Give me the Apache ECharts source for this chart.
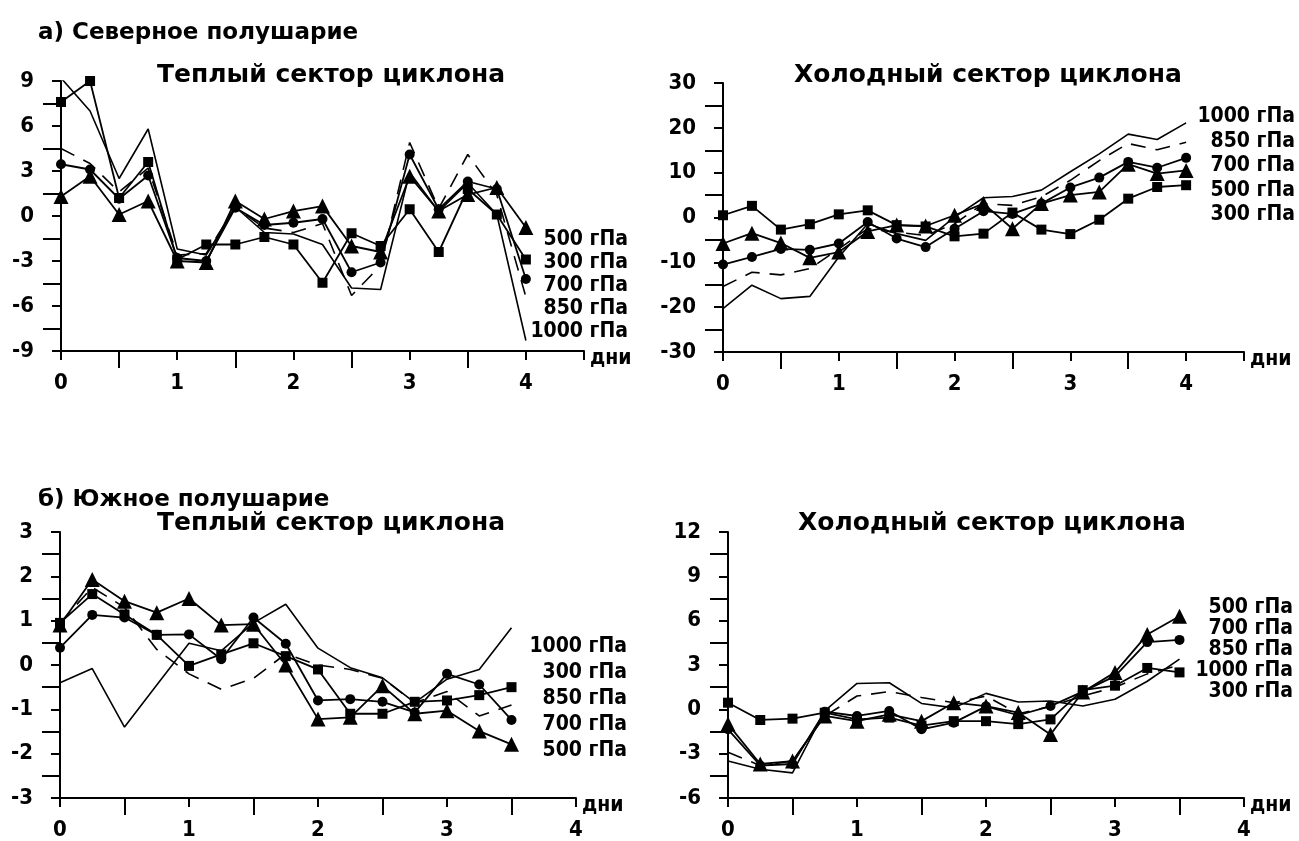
<!DOCTYPE html>
<html><head><meta charset="utf-8">
<script src="https://cdn.jsdelivr.net/npm/echarts@6/dist/echarts.min.js"></script>
<style>html,body{margin:0;padding:0;background:#fff}#c{width:1299px;height:841px}</style>
</head><body><div id="c"></div>
<script>
// ---------- DATA ----------
const daysN = [0,0.25,0.5,0.75,1,1.25,1.5,1.75,2,2.25,2.5,2.75,3,3.25,3.5,3.75,4];
const daysS = [0,0.25,0.5,0.75,1,1.25,1.5,1.75,2,2.25,2.5,2.75,3,3.25,3.5];

// a) Northern hemisphere, warm sector
const nWarm300  = [7.6, 9.0, 1.2, 3.6, -2.9, -1.9, -1.9, -1.4, -1.9, -4.45, -1.15, -2.0, 0.45, -2.4, 1.8, 0.1, -2.9];
const nWarm500  = [1.3, 2.65, 0.1, 1.0, -3.0, -3.1, 1.0, -0.2, 0.33, 0.66, -2.0, -2.4, 2.65, 0.33, 1.43, 1.9, -0.77];
const nWarm700  = [3.45, 3.1, 1.15, 2.7, -2.8, -3.0, 0.55, -0.6, -0.45, -0.2, -3.75, -3.1, 4.1, 0.45, 2.3, 1.8, -4.2];
const nWarm850  = [4.5, 3.5, 1.6, 3.2, -2.6, -2.5, 0.6, -0.8, -1.1, -0.5, -5.3, -3.3, 4.9, 0.5, 4.1, 1.4, -5.4];
const nWarm1000 = [9.2, 7.0, 2.5, 5.8, -2.2, -2.6, 0.6, -1.1, -1.2, -1.9, -4.8, -4.9, 2.9, 0.3, 2.2, 0.1, -8.3];

// a) Northern hemisphere, cold sector
const nCold300  = [0.5, 2.6, -2.7, -1.5, 0.7, 1.6, -1.7, -2.0, -4.2, -3.6, 1.1, -2.7, -3.7, -0.5, 4.2, 6.8, 7.2];
const nCold500  = [-5.8, -3.5, -5.7, -9.0, -7.7, -3.1, -1.7, -1.9, 0.5, 3.1, -2.5, 3.1, 5.0, 5.7, 11.9, 9.8, 10.5];
const nCold700  = [-10.5, -8.8, -7.0, -7.2, -5.8, -1.0, -4.7, -6.6, -2.5, 1.4, 0.8, 3.1, 6.7, 8.9, 12.4, 11.1, 13.3];
const nCold850  = [-15.4, -12.2, -12.8, -11.4, -7.0, -2.5, -3.3, -4.0, -1.4, 3.1, 2.7, 4.6, 8.3, 12.7, 16.5, 15.1, 16.8];
const nCold1000 = [-20.3, -15.1, -18.1, -17.6, -8.8, -1.4, -3.6, -5.1, 0.1, 4.4, 4.7, 6.1, 10.2, 14.2, 18.6, 17.4, 21.1];

// б) Southern hemisphere, warm sector
const sWarm300  = [0.95, 1.6, 1.14, 0.68, -0.02, 0.24, 0.49, 0.2, -0.1, -1.1, -1.1, -0.83, -0.8, -0.68, -0.5];
const sWarm500  = [0.9, 1.93, 1.44, 1.18, 1.5, 0.9, 0.92, 0.0, -1.22, -1.18, -0.47, -1.1, -1.03, -1.49, -1.79];
const sWarm700  = [0.39, 1.13, 1.07, 0.68, 0.69, 0.13, 1.07, 0.48, -0.8, -0.77, -0.83, -1.07, -0.2, -0.44, -1.24];
const sWarm850  = [0.95, 1.75, 1.3, 0.35, -0.2, -0.55, -0.3, 0.25, 0.0, -0.1, -0.3, -0.85, -0.6, -1.15, -0.9];
const sWarm1000 = [-0.4, -0.08, -1.4, -0.45, 0.49, 0.32, 0.95, 1.37, 0.38, -0.06, -0.29, -0.85, -0.32, -0.1, 0.84];

// б) Southern hemisphere, cold sector
const sCold300  = [0.45, -0.72, -0.63, -0.23, -0.68, -0.56, -1.1, -0.8, -0.8, -1.0, -0.68, 1.3, 1.6, 2.8, 2.5];
const sCold500  = [-1.0, -3.7, -3.5, -0.45, -0.8, -0.34, -0.8, 0.45, 0.22, -0.22, -1.7, 1.17, 2.5, 5.06, 6.3];
const sCold700  = [-1.35, -3.8, -3.7, -0.16, -0.45, -0.11, -1.35, -0.9, 0.2, -0.4, 0.22, 1.2, 2.25, 4.55, 4.7];
const sCold850  = [-2.9, -3.8, -3.5, -0.45, 0.9, 1.2, 0.8, 0.45, 0.9, -0.3, 0.2, 0.9, 1.5, 2.4, 3.0];
const sCold1000 = [-3.5, -4.05, -4.3, -0.1, 1.75, 1.8, 0.4, 0.1, 1.08, 0.5, 0.56, 0.22, 0.68, 1.9, 3.4];

// labels
const titleN = 'а) Северное полушарие';
const titleS = 'б) Южное полушарие';
const titleWarm = 'Теплый сектор циклона';
const titleCold = 'Холодный сектор циклона';
const xName = 'дни';
const unit = ' гПа';
const legendNWarm = ['500', '300', '700', '850', '1000'];
const legendNCold = ['1000', '850', '700', '500', '300'];
const legendSWarm = ['1000', '300', '850', '700', '500'];
const legendSCold = ['500', '700', '850', '1000', '300'];
const xLabelDays = [0, 1, 2, 3, 4];
// [min, max, labelled step]
const yTicksNWarm = [-9, 9, 3];
const yTicksNCold = [-30, 30, 10];
const yTicksSWarm = [-3, 3, 1];
const yTicksSCold = [-6, 12, 3];

// ---------- LAYOUT ----------
const FF = "'DejaVu Sans Condensed','DejaVu Sans',sans-serif";
const TF = "'DejaVu Sans',sans-serif";
const grids = [
  {left: 61,  top: 81,  width: 523, height: 270},
  {left: 723, top: 83,  width: 521, height: 269},
  {left: 60,  top: 532, width: 516, height: 267},
  {left: 728, top: 532, width: 516, height: 267}
];
const xMax = [4.5, 4.5, 4, 4];

function range(a, b, s) { const r = []; for (let v = a; v <= b + 1e-9; v += s) r.push(Math.round(v * 1000) / 1000); return r; }
const halfSteps = (a, b, s) => range(a + s / 2, b, s);

// primary x axes: short ticks at labelled days, labels, name
const xAxes = grids.map((g, i) => ({
  type: 'value', gridIndex: i, min: 0, max: xMax[i], interval: 0.5, position: 'bottom',
  name: xName, nameLocation: 'end', nameGap: 6,
  nameTextStyle: {fontFamily: FF, fontWeight: 'bold', fontSize: 21, color: '#000', verticalAlign: 'top', lineHeight: 16},
  axisLine: {onZero: false, lineStyle: {color: '#000', width: 2}},
  axisTick: {show: true, length: 9, inside: false, lineStyle: {color: '#000', width: 2},
    customValues: xMax[i] > 4 ? xLabelDays.concat([xMax[i]]) : xLabelDays},
  axisLabel: {customValues: xLabelDays, margin: 21, fontFamily: FF, fontWeight: 'bold', fontSize: 22, color: '#000', formatter: v => String(v)},
  splitLine: {show: false}
}));
// secondary x axes: long ticks at half days
grids.forEach((g, i) => xAxes.push({
  type: 'value', gridIndex: i, min: 0, max: xMax[i], interval: 0.5, position: 'bottom', offset: 0,
  axisLine: {show: false, onZero: false},
  axisTick: {show: true, length: 17, inside: false, lineStyle: {color: '#000', width: 2}, customValues: halfSteps(0, 4, 1)},
  axisLabel: {show: false}, splitLine: {show: false}
}));

const yT = [yTicksNWarm, yTicksNCold, yTicksSWarm, yTicksSCold];
const yAxes = grids.map((g, i) => ({
  type: 'value', gridIndex: i, min: yT[i][0], max: yT[i][1], interval: yT[i][2] / 2, position: 'left',
  axisLine: {show: true, onZero: false, lineStyle: {color: '#000', width: 2}},
  axisTick: {show: true, length: 9, inside: false, lineStyle: {color: '#000', width: 2}, customValues: range(yT[i][0], yT[i][1], yT[i][2])},
  axisLabel: {customValues: range(yT[i][0], yT[i][1], yT[i][2]), margin: 27, fontFamily: FF, fontWeight: 'bold', fontSize: 22, color: '#000', formatter: v => String(v)},
  splitLine: {show: false}
}));
grids.forEach((g, i) => yAxes.push({
  type: 'value', gridIndex: i, min: yT[i][0], max: yT[i][1], interval: yT[i][2] / 2, position: 'left', offset: 0,
  axisLine: {show: false, onZero: false},
  axisTick: {show: true, length: 18, inside: false, lineStyle: {color: '#000', width: 2}, customValues: halfSteps(yT[i][0], yT[i][1], yT[i][2])},
  axisLabel: {show: false}, splitLine: {show: false}
}));

const styleOf = {
  '300':  {symbol: 'rect', symbolSize: 10, width: 1.8, type: 'solid'},
  '500':  {symbol: 'triangle', symbolSize: 15, width: 1.8, type: 'solid'},
  '700':  {symbol: 'circle', symbolSize: 10, width: 1.8, type: 'solid'},
  '850':  {symbol: 'none', symbolSize: 0, width: 1.6, type: [15, 10]},
  '1000': {symbol: 'none', symbolSize: 0, width: 1.6, type: 'solid'}
};
const panels = [
  [daysN, {'300': nWarm300, '500': nWarm500, '700': nWarm700, '850': nWarm850, '1000': nWarm1000}],
  [daysN, {'300': nCold300, '500': nCold500, '700': nCold700, '850': nCold850, '1000': nCold1000}],
  [daysS, {'300': sWarm300, '500': sWarm500, '700': sWarm700, '850': sWarm850, '1000': sWarm1000}],
  [daysS, {'300': sCold300, '500': sCold500, '700': sCold700, '850': sCold850, '1000': sCold1000}]
];
const drawOrder = ['1000', '850', '300', '700', '500'];
const series = [];
panels.forEach(([xs, set], gi) => {
  drawOrder.forEach(lv => {
    const st = styleOf[lv];
    series.push({
      type: 'line', name: lv + unit, xAxisIndex: gi, yAxisIndex: gi,
      data: xs.map((d, k) => [d, set[lv][k]]),
      symbol: st.symbol, symbolSize: st.symbolSize, showSymbol: st.symbol !== 'none',
      lineStyle: {color: '#000', width: st.width, type: st.type},
      itemStyle: {color: '#000', borderWidth: 0},
      animation: false, silent: true
    });
  });
});

function txt(t, x, y, size, align, family) {
  return {type: 'text', x: x, y: y, silent: true,
    style: {text: t, fill: '#000', font: 'bold ' + size + 'px ' + (family || FF), align: align || 'left', verticalAlign: 'middle'}};
}
const graphics = [];
graphics.push(txt(titleN, 38, 33, 23, 'left', TF));
graphics.push(txt(titleS, 38, 500, 23, 'left', TF));
graphics.push(txt(titleWarm, 331, 75, 25, 'center', TF));
graphics.push(txt(titleCold, 988, 75, 25, 'center', TF));
graphics.push(txt(titleWarm, 331, 523, 25, 'center', TF));
graphics.push(txt(titleCold, 992, 523, 25, 'center', TF));

const legendCfg = [
  [legendNWarm, 628, 240, 22.8],
  [legendNCold, 1295, 117, 24.5],
  [legendSWarm, 627, 647, 26],
  [legendSCold, 1293, 608, 21]
];
legendCfg.forEach(([names, xr, y0, dy]) => {
  names.forEach((n, k) => graphics.push(txt(n + unit, xr, y0 + k * dy, 21, 'right')));
});

const chart = echarts.init(document.getElementById('c'));
chart.setOption({
  backgroundColor: '#fff',
  animation: false,
  grid: grids,
  xAxis: xAxes,
  yAxis: yAxes,
  series: series,
  graphic: graphics
});
</script></body></html>
